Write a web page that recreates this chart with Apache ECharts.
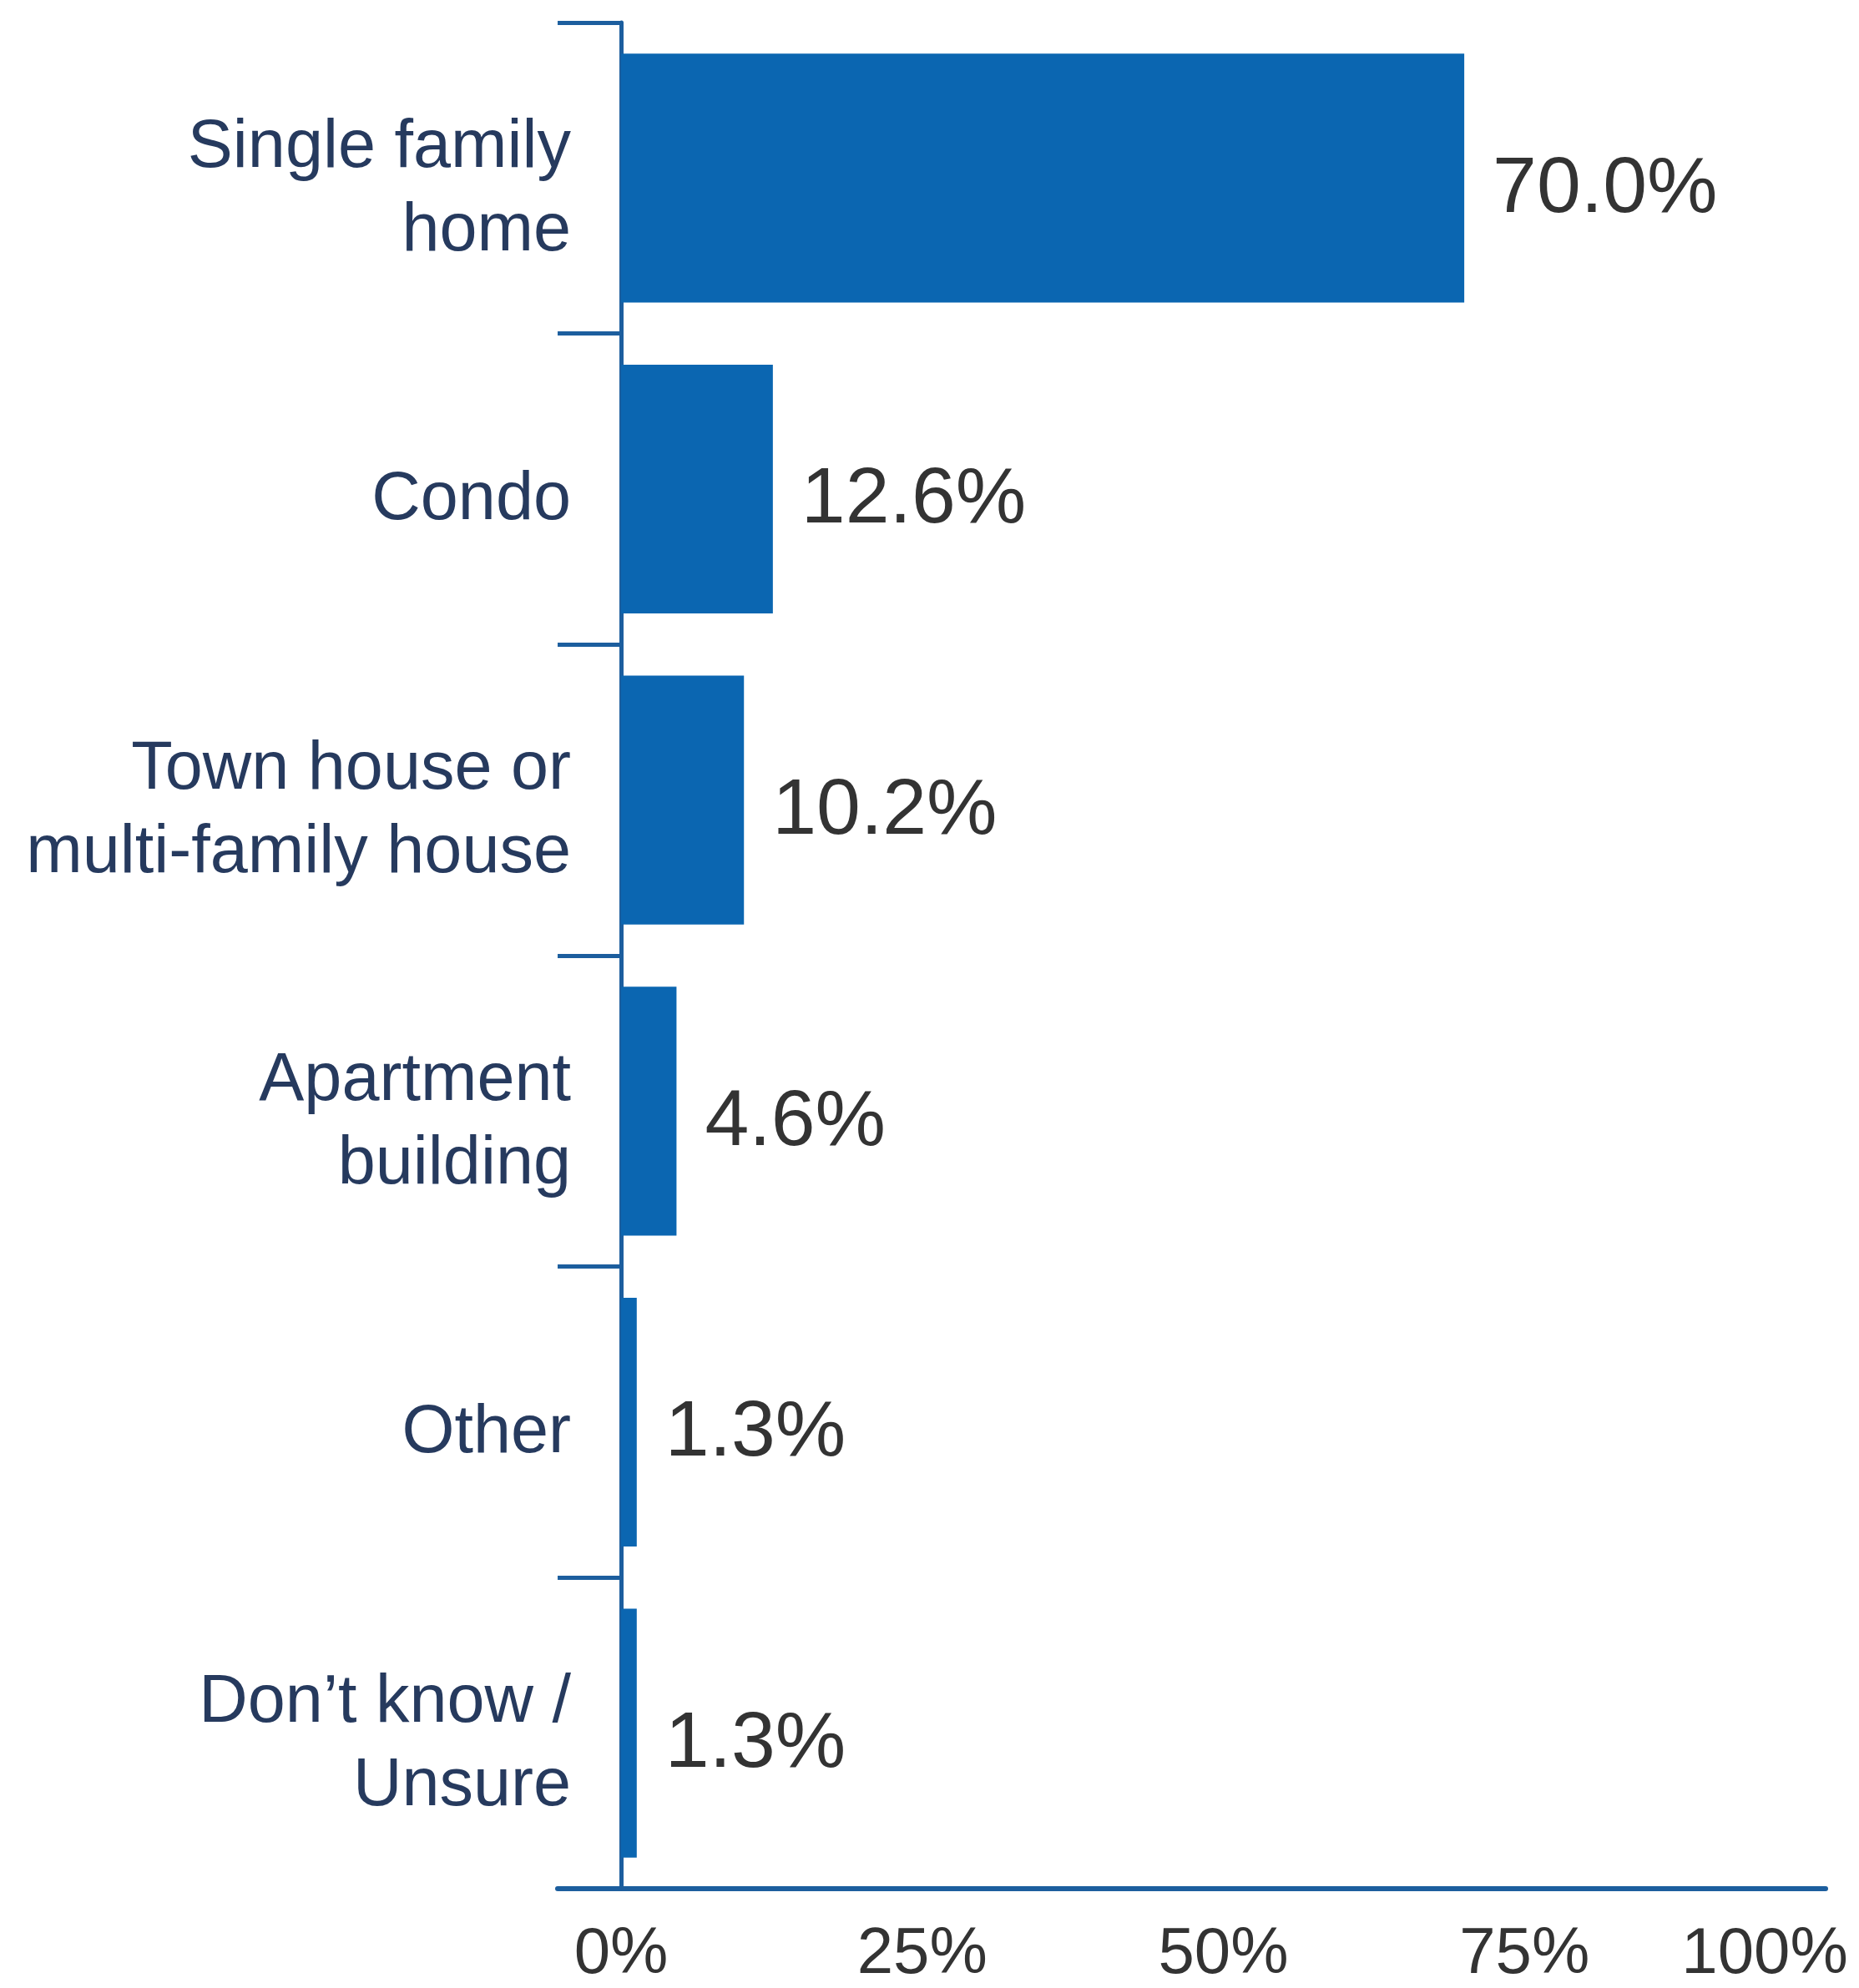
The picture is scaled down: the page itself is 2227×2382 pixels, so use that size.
<!DOCTYPE html>
<html>
<head>
<meta charset="utf-8">
<script src="https://cdn.jsdelivr.net/npm/echarts@6/dist/echarts.min.js"></script>
<style>
html,body{margin:0;padding:0;background:#ffffff;}
#chart{width:2227px;height:2382px;}
</style>
</head>
<body>
<div id="chart"></div>
<script>
const categories = ["Single family\nhome", "Condo", "Town house or\nmulti-family house", "Apartment\nbuilding", "Other", "Don\u2019t know /\nUnsure"];
const values = [70.0, 12.6, 10.2, 4.6, 1.3, 1.3];
const xTickValues = [0, 25, 50, 75, 100];

const axisBlue = '#1c5e9e';
const barBlue = '#0b66b1';
const tickFont = { color: '#333333', fontFamily: 'Liberation Sans, Arial, sans-serif', fontSize: 78 };
const catFont = { color: '#263a5e', fontFamily: 'Liberation Sans, Arial, sans-serif', fontSize: 81, lineHeight: 100, align: 'right' };

const chart = echarts.init(document.getElementById('chart'));
chart.setOption({
  backgroundColor: '#ffffff',
  animation: false,
  grid: { left: 668, right: 40, top: 27, bottom: 119, containLabel: false, outerBoundsMode: 'none' },
  xAxis: {
    type: 'value',
    min: -5.27,
    max: 100,
    splitLine: { show: false },
    axisTick: { show: false },
    axisLine: { show: true, lineStyle: { color: axisBlue, width: 6 } },
    axisLabel: {
      customValues: xTickValues,
      formatter: (v) => v === xTickValues[xTickValues.length - 1] ? '{last|' + v + '%}' : v + '%',
      color: tickFont.color,
      fontFamily: tickFont.fontFamily,
      fontSize: tickFont.fontSize,
      margin: 40,
      rich: {
        last: Object.assign({ padding: [0, 146, 0, 0] }, tickFont)
      }
    }
  },
  yAxis: {
    type: 'category',
    inverse: true,
    data: categories,
    axisLine: { show: true, onZero: true, lineStyle: { color: axisBlue, width: 5 } },
    axisTick: { show: true, length: 76, lineStyle: { color: axisBlue, width: 5 } },
    axisLabel: {
      color: catFont.color,
      fontFamily: catFont.fontFamily,
      fontSize: catFont.fontSize,
      lineHeight: catFont.lineHeight,
      margin: -16,
      align: 'right',
      formatter: (v) => '{s| }\n' + v.split('\n').map((s) => '{n|' + s + '}').join('\n'),
      rich: {
        s: { fontSize: 1, lineHeight: 28, align: 'right' },
        n: Object.assign({}, catFont)
      }
    }
  },
  series: [{
    type: 'bar',
    data: values,
    barCategoryGap: '20%',
    itemStyle: { color: barBlue },
    label: {
      show: true,
      position: 'right',
      distance: 34,
      offset: [0, 14],
      formatter: (p) => p.value.toFixed(1) + '%',
      color: '#333333',
      fontFamily: 'Liberation Sans, Arial, sans-serif',
      fontSize: 95
    }
  }]
});
</script>
</body>
</html>
